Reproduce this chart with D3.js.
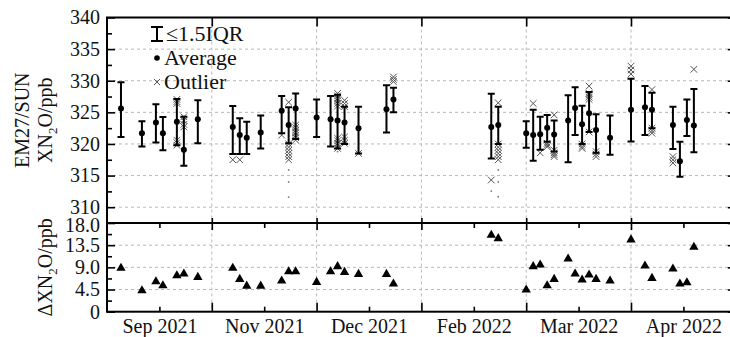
<!DOCTYPE html>
<html>
<head>
<meta charset="utf-8">
<script src="https://cdn.jsdelivr.net/npm/d3@7"></script>
<style>
  html, body { margin: 0; padding: 0; background: #fff; overflow: hidden; }
  svg { display: block; }
  .grid line { stroke: #b8b8b8; stroke-width: 1; stroke-dasharray: 3 3; }
  .axis path { display: none; }
  .axis line { stroke: #000; stroke-width: 1.6; }
  .axis text { font-size: 20px; fill: #111; }
</style>
</head>
<body>
<div id="chart"></div>
<script>
// observation slots, 15 slots per month band
const obsX = [2, 5, 7, 8, 10, 11, 13,
  18, 19, 20, 22, 25, 26, 27,
  30, 32, 33, 34, 36, 40, 41,
  55, 56,
  60, 61, 62, 63, 64, 66, 67, 68, 69, 70, 72,
  75, 77, 78, 81, 82, 83, 84];

// EM27/SUN XN2O daily statistics (ppb)
const xnMean = [325.6, 321.7, 323.4, 321.7, 323.5, 319.1, 323.9,
  322.7, 321.4, 321.0, 321.8, 325.25, 323.0, 325.6,
  324.2, 323.9, 323.7, 323.4, 322.5, 325.5, 327.05,
  322.7, 323.0,
  321.7, 321.4, 321.55, 322.55, 321.5, 323.7, 325.7, 323.1, 324.85, 322.2, 321.0,
  325.4, 325.8, 325.4, 323.0, 317.25, 323.8, 322.9];

const whiskerLow = [321.1, 319.6, 320.25, 319.0, 319.8, 316.55, 320.1,
  318.4, 318.4, 318.4, 319.3, 321.7, 320.1, 320.8,
  321.1, 319.6, 319.3, 320.0, 318.5, 321.8, 325.0,
  317.7, 320.0,
  319.4, 317.35, 319.1, 320.35, 318.8, 317.1, 321.4, 320.0, 321.9, 318.6, 318.3,
  320.4, 321.4, 322.5, 319.2, 314.8, 321.25, 318.7];

const whiskerHigh = [329.75, 323.6, 326.3, 324.25, 327.1, 324.3, 326.9,
  326.0, 324.05, 323.5, 324.5, 327.6, 325.8, 328.0,
  327.05, 327.6, 327.8, 325.9, 325.9, 329.3, 328.9,
  327.95, 325.9,
  323.6, 325.4, 324.3, 324.6, 323.7, 327.7, 328.95, 326.05, 328.2, 324.7, 324.5,
  330.3, 329.15, 328.1, 325.9, 320.35, 327.05, 328.7];

const outliers = [[], [], [], [], [327.05, 326.7, 326.4, 320.6, 320.2, 319.8], [324.3, 323.7, 323.1, 322.7], [],
  [317.5], [317.5], [], [], [321.4], [326.6, 320.0, 319.5, 319.0, 318.5, 318.0, 317.5], [323.0, 322.6, 322.2, 321.8, 321.4, 321.0, 320.6],
  [], [], [328.0, 327.6, 327.2, 326.8, 326.4, 326.0, 320.9, 320.5, 320.1, 319.7, 319.3], [326.9, 326.4, 325.9, 321.1, 320.6, 320.1], [318.5], [], [330.6, 330.2, 329.85],
  [314.3], [326.5, 320.0, 319.5, 319.0, 318.5, 318.0, 317.5],
  [], [326.4], [318.6], [320.1, 319.8, 319.55], [324.6, 319.0, 318.6, 318.3, 318.0], [], [], [320.0, 319.6, 319.3], [329.15, 328.0, 327.7, 327.4, 327.05, 321.9], [318.8, 318.4, 318.0], [],
  [332.3, 331.7, 331.05], [], [328.6, 322.5, 322.1, 321.7], [318.0, 317.5, 317.0], [], [], [331.8]];

// far-out single retrievals: [slot, ppb]
const farPoints = [[26, 315.9], [26, 314.0], [26, 311.6], [55, 312.55], [56, 315.9], [56, 314.0], [56, 311.65], [33, 318.8]];

// daily XN2O spread (ppb)
const deltaValues = [8.84, 4.28, 6.1, 5.3, 7.33, 7.68, 7.0,
  8.84, 6.6, 5.23, 5.23, 6.25, 8.15, 8.15,
  5.98, 8.15, 9.17, 8.0, 7.6, 7.6, 5.64,
  15.55, 14.87,
  4.42, 9.17, 9.5, 5.3, 6.6, 10.73, 7.68, 6.45, 7.47, 6.6, 6.25,
  14.6, 9.3, 6.8, 8.7, 5.64, 5.9, 13.1];

const monthLabels = ["Sep 2021", "Nov 2021", "Dec 2021", "Feb 2022", "Mar 2022", "Apr 2022"];
const topTicks = [310, 315, 320, 325, 330, 335, 340];
const topMinor = [312.5, 317.5, 322.5, 327.5, 332.5, 337.5];
const botTicks = [0, 4.5, 9.0, 13.5, 18.0];
const botMinor = [2.25, 6.75, 11.25, 15.75];

const W = 730, H = 337;
const left = 107, right = 735.8;   // frame runs a few px past the page edge
const top1 = 17.5, mid = 223, bot2 = 311.7;
const serif = "'Liberation Serif', 'Times New Roman', 'DejaVu Serif', serif";

const svg = d3.select("#chart").append("svg").attr("width", W).attr("height", H);

const x = d3.scaleLinear().domain([0, 90]).range([left, right]);
const yTop = d3.scaleLinear().domain([307.5, 340]).range([mid, top1]);
const yBot = d3.scaleLinear().domain([0, 18]).range([bot2, mid]);

const bandEdges = [15, 30, 45, 60, 75];
const bandMid = monthLabels.map((d, i) => 7.5 + 15 * i);

// grid
const grid = svg.append("g").attr("class", "grid");
grid.selectAll(".vt").data(bandEdges).join("line")
  .attr("x1", d => x(d)).attr("x2", d => x(d)).attr("y1", top1).attr("y2", bot2);
grid.selectAll(".ht").data(topTicks.filter(d => d < 340)).join("line").attr("class", "ht")
  .attr("x1", left).attr("x2", right).attr("y1", d => yTop(d)).attr("y2", d => yTop(d));
grid.selectAll(".hb").data(botTicks.filter(d => d > 0 && d < 18)).join("line").attr("class", "hb")
  .attr("x1", left).attr("x2", right).attr("y1", d => yBot(d)).attr("y2", d => yBot(d));

// axes
function addAxis(axis, tx, ty) {
  return svg.append("g").attr("class", "axis").attr("transform", `translate(${tx},${ty})`).call(axis);
}
addAxis(d3.axisLeft(yTop).tickValues(topTicks).tickSize(-8).tickPadding(7).tickFormat(d3.format("d")), left, 0);
addAxis(d3.axisLeft(yTop).tickValues(topMinor).tickSize(-5).tickFormat(""), left, 0);
addAxis(d3.axisRight(yTop).tickValues(topTicks).tickSize(-8).tickFormat(""), right, 0);
addAxis(d3.axisRight(yTop).tickValues(topMinor).tickSize(-5).tickFormat(""), right, 0);

const botAxis = addAxis(d3.axisLeft(yBot).tickValues(botTicks).tickSize(-8).tickPadding(7)
  .tickFormat(d => d === 0 ? "0" : d3.format(".1f")(d)), left, 0);
// top label of the lower panel sits a little low, clear of "310"
botAxis.selectAll("text").filter(d => d === 18).attr("dy", "0.4em");
addAxis(d3.axisLeft(yBot).tickValues(botMinor).tickSize(-5).tickFormat(""), left, 0);
addAxis(d3.axisRight(yBot).tickValues(botTicks).tickSize(-8).tickFormat(""), right, 0);
addAxis(d3.axisRight(yBot).tickValues(botMinor).tickSize(-5).tickFormat(""), right, 0);

addAxis(d3.axisTop(x).tickValues(bandEdges).tickSize(-9).tickFormat(""), 0, top1);
addAxis(d3.axisBottom(x).tickValues(bandEdges).tickSize(-5).tickFormat(""), 0, mid);
addAxis(d3.axisTop(x).tickValues(bandEdges).tickSize(-7).tickFormat(""), 0, mid);
addAxis(d3.axisTop(x).tickValues(bandMid).tickSize(-5).tickFormat(""), 0, mid);
addAxis(d3.axisBottom(x).tickValues(bandEdges).tickSize(-9).tickFormat(""), 0, bot2);
addAxis(d3.axisBottom(x).tickValues(bandMid).tickSize(-5).tickPadding(7)
  .tickFormat((d, i) => monthLabels[i]), 0, bot2);

// frames
svg.append("rect").attr("x", left).attr("y", top1).attr("width", right - left).attr("height", bot2 - top1)
  .attr("fill", "none").attr("stroke", "#000").attr("stroke-width", 2);
svg.append("line").attr("x1", left).attr("x2", right).attr("y1", mid).attr("y2", mid)
  .attr("stroke", "#000").attr("stroke-width", 2);

// outliers
const cross = (g, cx, cy, r) => g.append("path")
  .attr("d", `M${cx - r},${cy - r}L${cx + r},${cy + r}M${cx - r},${cy + r}L${cx + r},${cy - r}`)
  .attr("stroke", "#555").attr("stroke-width", 1).attr("fill", "none");

const pts = svg.append("g");
outliers.forEach((list, i) => list.forEach(v => cross(pts, x(obsX[i]), yTop(v), 3.3)));
pts.selectAll("circle.far").data(farPoints).join("circle").attr("class", "far")
  .attr("cx", d => x(d[0])).attr("cy", d => yTop(d[1])).attr("r", 0.9).attr("fill", "#777");

// whiskers and means
const bars = svg.append("g").attr("stroke", "#000").attr("stroke-width", 2).attr("fill", "none");
obsX.forEach((s, i) => {
  const cx = x(s), lo = yTop(whiskerLow[i]), hi = yTop(whiskerHigh[i]);
  bars.append("path").attr("d", `M${cx},${lo}V${hi}M${cx - 3.5},${lo}H${cx + 3.5}M${cx - 3.5},${hi}H${cx + 3.5}`);
});
svg.append("g").selectAll("circle").data(obsX).join("circle")
  .attr("cx", d => x(d)).attr("cy", (d, i) => yTop(xnMean[i])).attr("r", 3).attr("fill", "#000");

// spread triangles
const tri = d3.symbol().type(d3.symbolTriangle).size(38);
svg.append("g").selectAll("path").data(obsX).join("path")
  .attr("d", tri).attr("fill", "#000")
  .attr("transform", (d, i) => `translate(${x(d)},${yBot(deltaValues[i])})`);

// legend
const lg = svg.append("g").style("font-size", "22px").attr("fill", "#111");
const lx = 157;
lg.append("path").attr("d", `M${lx},27V41M${lx - 6},27H${lx + 6}M${lx - 6},41H${lx + 6}`)
  .attr("stroke", "#000").attr("stroke-width", 2).attr("fill", "none");
lg.append("text").attr("x", 166).attr("y", 41).text("≤1.5IQR");
lg.append("circle").attr("cx", lx).attr("cy", 58).attr("r", 2.8).attr("fill", "#000");
lg.append("text").attr("x", 164).attr("y", 65).text("Average");
cross(lg, lx, 82, 3);
lg.append("text").attr("x", 164).attr("y", 89).text("Outlier");

// y titles
const titles = svg.append("g").style("font-size", "20px").attr("fill", "#111").attr("text-anchor", "middle");
const midTop = (top1 + mid) / 2, midBot = (mid + bot2) / 2;
titles.append("text").attr("transform", `translate(29,${midTop}) rotate(-90)`).text("EM27/SUN");
const t2 = titles.append("text").attr("transform", `translate(52,${midTop}) rotate(-90)`);
t2.append("tspan").text("XN");
t2.append("tspan").style("font-size", "13px").attr("dy", 5).text("2");
t2.append("tspan").attr("dy", -5).text("O/ppb");
const t3 = titles.append("text").attr("transform", `translate(52,${midBot}) rotate(-90)`);
t3.append("tspan").text("ΔXN");
t3.append("tspan").style("font-size", "13px").attr("dy", 5).text("2");
t3.append("tspan").attr("dy", -5).text("O/ppb");

// serif face on every label
svg.selectAll("text").style("font-family", serif);
</script>
</body>
</html>
